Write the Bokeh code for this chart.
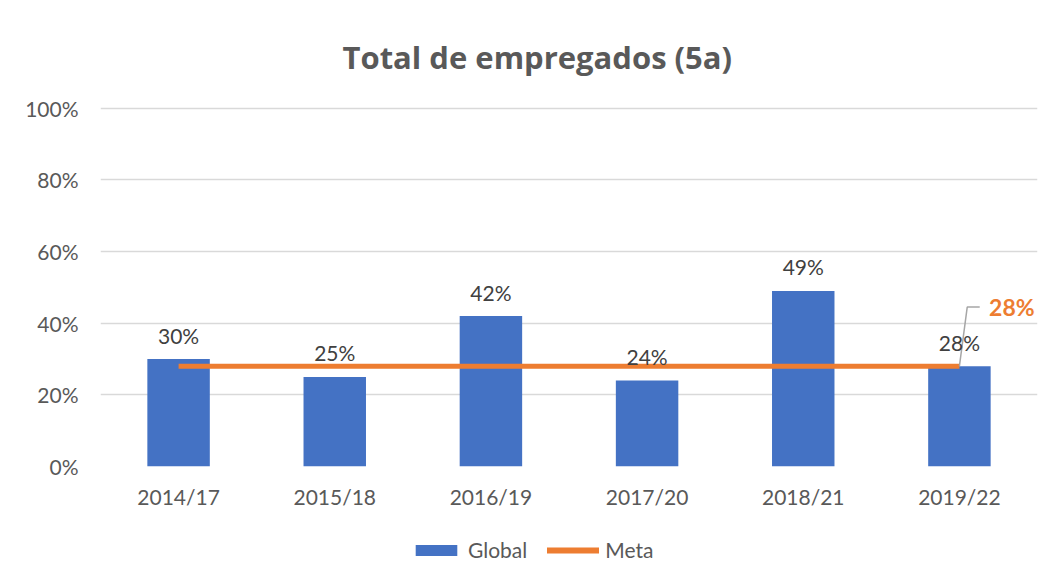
from bokeh.plotting import figure
from bokeh.layouts import column
from bokeh.models import Range1d, FixedTicker, NumeralTickFormatter, ColumnDataSource, LabelSet, Legend, LegendItem, Label
from bokeh.core.properties import value
from bokeh.embed import file_html
from bokeh.resources import INLINE

categories = ["2014/17", "2015/18", "2016/19", "2017/20", "2018/21", "2019/22"]
global_vals = [0.30, 0.25, 0.42, 0.24, 0.49, 0.28]
meta_vals = [0.28, 0.28, 0.28, 0.28, 0.28, 0.28]
y_ticks = [0, 0.2, 0.4, 0.6, 0.8, 1.0]

BLUE = "#4472C4"
ORANGE = "#ED7D31"
GRID = "#D9D9D9"
TXT = "#595959"
FONT = "Lato"

xs = [i + 0.5 for i in range(len(categories))]
src = ColumnDataSource(dict(x=xs, top=global_vals, meta=meta_vals,
                            lbl=[f"{round(v*100)}%" for v in global_vals]))

p = figure(width=1046, height=520, output_backend="svg", toolbar_location=None,
           x_range=Range1d(0, len(categories)), y_range=Range1d(0, 1.005),
           min_border_left=100, min_border_right=9, min_border_top=106, min_border_bottom=54)
p.outline_line_color = None
p.background_fill_color = "white"
p.border_fill_color = "white"

p.title.text = "Total de empregados (5a)"
p.title.align = "left"
p.title.offset = 242
p.title.text_font = "Open Sans"
p.title.text_font_size = "31px"
p.title.text_font_style = "bold"
p.title.text_color = TXT
p.title.standoff = 58

bars = p.vbar(x="x", top="top", width=0.4, source=src, fill_color=BLUE, line_color=None)
meta = p.line(x="x", y="meta", source=src, line_color=ORANGE, line_width=5)

# y axis
p.yaxis.ticker = FixedTicker(ticks=y_ticks)
p.yaxis.formatter = NumeralTickFormatter(format="0%")
p.yaxis.axis_line_color = None
p.yaxis.major_tick_line_color = None
p.yaxis.minor_tick_line_color = None
p.yaxis.major_label_standoff = 16
p.yaxis.major_label_text_font = FONT
p.yaxis.major_label_text_font_size = "21px"
p.yaxis.major_label_text_color = TXT
p.ygrid.ticker = FixedTicker(ticks=y_ticks)
p.ygrid.grid_line_color = GRID
p.ygrid.grid_line_width = 1.5
p.xgrid.grid_line_color = None

# x axis
p.xaxis.ticker = FixedTicker(ticks=xs)
p.xaxis.major_label_overrides = {x: c for x, c in zip(xs, categories)}
p.xaxis.axis_line_color = None
p.xaxis.major_tick_line_color = None
p.xaxis.minor_tick_line_color = None
p.xaxis.major_label_standoff = 11
p.xaxis.major_label_text_font = FONT
p.xaxis.major_label_text_font_size = "21px"
p.xaxis.major_label_text_color = TXT

labels = LabelSet(x="x", y="top", text="lbl", source=src, y_offset=24,
                  text_align="center", text_baseline="middle",
                  text_font=value(FONT), text_font_size=value("21px"), text_color="#404040")
p.add_layout(labels)

# Meta data label with leader line
last_x = xs[-1]
mv = meta_vals[-1]
p.line(x=[last_x, last_x + 0.05, last_x + 0.13], y=[mv, mv + 0.165, mv + 0.165],
       line_color="#A6A6A6", line_width=1.5)
p.add_layout(Label(x=last_x + 0.19, y=mv + 0.165, text=f"{round(mv*100)}%",
                   text_font=FONT, text_font_size="23px", text_font_style="bold",
                   text_color=ORANGE, text_baseline="middle", text_align="left"))

# Legend strip below the chart (proxy renderers kept out of view)
lg = figure(width=1046, height=55, output_backend="svg", toolbar_location=None,
            x_range=Range1d(100, 101), y_range=Range1d(100, 101),
            x_axis_location=None, y_axis_location=None,
            min_border_left=0, min_border_right=0, min_border_top=0, min_border_bottom=0)
lg.grid.visible = False
lg.outline_line_color = None
lg_bar = lg.vbar(x="x", top="top", width=0.4, source=src, fill_color=BLUE, line_color=None)
lg_line = lg.line(x="x", y="meta", source=src, line_color=ORANGE, line_width=6, line_cap="round")
legend = Legend(items=[LegendItem(label="Global", renderers=[lg_bar]),
                       LegendItem(label="Meta", renderers=[lg_line])],
                orientation="horizontal", location=(310, 13),
                glyph_width=52, glyph_height=14, label_text_font=FONT,
                label_text_font_size="21px", label_text_color=TXT,
                border_line_color=None, background_fill_alpha=0,
                spacing=20, label_standoff=6, padding=0, margin=0)
lg.add_layout(legend, "center")

layout = column(p, lg, spacing=0)
open("out.html", "w").write(file_html(layout, INLINE))
